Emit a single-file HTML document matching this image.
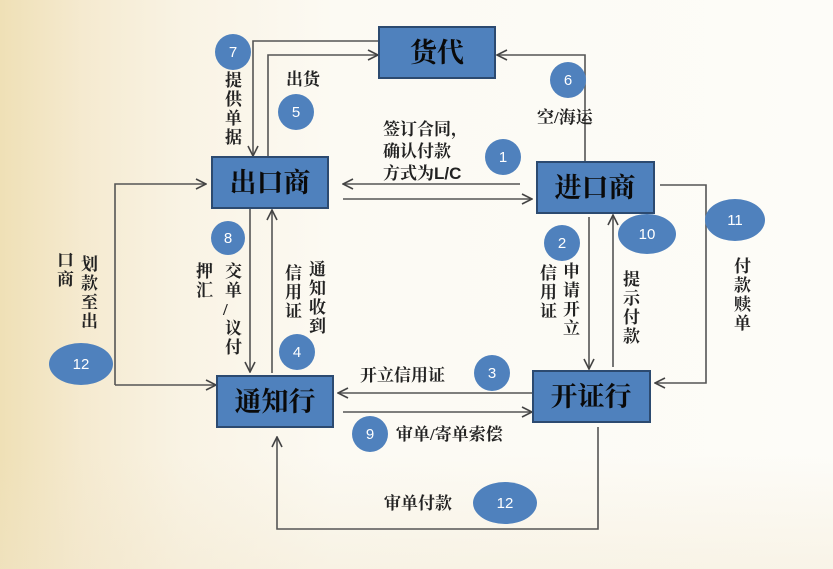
<!DOCTYPE html>
<html><head><meta charset="utf-8"><style>
html,body{margin:0;padding:0;}
body{width:833px;height:569px;overflow:hidden;background:linear-gradient(180deg,rgba(255,255,255,0) 80%,rgba(240,228,200,0.35) 100%),linear-gradient(90deg,#efe0b6 0%,#f5ead0 10%,#f9f3e4 22%,#fcfaf3 40%,#fdfcf8 100%);}
svg{display:block;}
text{font-family:"Liberation Serif","Noto Serif CJK SC","Noto Sans CJK SC",serif;fill:#222;}
.box{fill:#4f81bd;stroke:#2c4a70;stroke-width:2;}
.bt{font-size:27px;fill:#0a0a0a;text-anchor:middle;font-weight:bold;}
.c{fill:#4f81bd;}
.n{font-family:"Liberation Sans",sans-serif;font-size:15px;fill:#fff;text-anchor:middle;}
.l{font-size:17px;font-weight:bold;fill:#333;}
.ln{stroke:#555;stroke-width:1.6;fill:none;}
</style></head><body>
<svg width="833" height="569" viewBox="0 0 833 569">
<defs><marker id="a" viewBox="0 0 12 12" refX="11" refY="6" markerWidth="12" markerHeight="12" markerUnits="userSpaceOnUse" orient="auto"><path d="M1,1 L11,6 L1,11" fill="none" stroke="#444" stroke-width="1.6"/></marker></defs>

<polyline class="ln" points="379,41 253,41 253,156" marker-end="url(#a)"/>
<polyline class="ln" points="268,157 268,55 378,55" marker-end="url(#a)"/>
<polyline class="ln" points="585,162 585,55 497,55" marker-end="url(#a)"/>
<line class="ln" x1="520" y1="184" x2="343" y2="184" marker-end="url(#a)"/>
<line class="ln" x1="343" y1="199" x2="532" y2="199" marker-end="url(#a)"/>
<line class="ln" x1="250" y1="209" x2="250" y2="372" marker-end="url(#a)"/>
<line class="ln" x1="272" y1="373" x2="272" y2="210" marker-end="url(#a)"/>
<polyline class="ln" points="115,385 115,184 206,184" marker-end="url(#a)"/>
<line class="ln" x1="115" y1="385" x2="216" y2="385" marker-end="url(#a)"/>
<line class="ln" x1="533" y1="393" x2="338" y2="393" marker-end="url(#a)"/>
<line class="ln" x1="343" y1="412" x2="532" y2="412" marker-end="url(#a)"/>
<polyline class="ln" points="598,427 598,529 277,529 277,437" marker-end="url(#a)"/>
<line class="ln" x1="589" y1="217" x2="589" y2="369" marker-end="url(#a)"/>
<line class="ln" x1="613" y1="367" x2="613" y2="215" marker-end="url(#a)"/>
<polyline class="ln" points="660,185 706,185 706,383 655,383" marker-end="url(#a)"/>

<rect class="box" x="379" y="27" width="116" height="51"/><text class="bt" x="437" y="62">货代</text>
<rect class="box" x="212" y="157" width="116" height="51"/><text class="bt" x="270" y="192">出口商</text>
<rect class="box" x="537" y="162" width="117" height="51"/><text class="bt" x="595" y="197">进口商</text>
<rect class="box" x="217" y="376" width="116" height="51"/><text class="bt" x="275" y="411">通知行</text>
<rect class="box" x="533" y="371" width="117" height="51"/><text class="bt" x="591" y="406">开证行</text>

<circle class="c" cx="233" cy="52" r="18"/><text class="n" x="233" y="57">7</text>
<circle class="c" cx="296" cy="112" r="18"/><text class="n" x="296" y="117">5</text>
<circle class="c" cx="503" cy="157" r="18"/><text class="n" x="503" y="162">1</text>
<circle class="c" cx="568" cy="80" r="18"/><text class="n" x="568" y="85">6</text>
<circle class="c" cx="562" cy="243" r="18"/><text class="n" x="562" y="248">2</text>
<ellipse class="c" cx="647" cy="234" rx="29" ry="20"/><text class="n" x="647" y="239">10</text>
<ellipse class="c" cx="735" cy="220" rx="30" ry="21"/><text class="n" x="735" y="225">11</text>
<circle class="c" cx="228" cy="238" r="17"/><text class="n" x="228" y="243">8</text>
<circle class="c" cx="297" cy="352" r="18"/><text class="n" x="297" y="357">4</text>
<ellipse class="c" cx="81" cy="364" rx="32" ry="21"/><text class="n" x="81" y="369">12</text>
<circle class="c" cx="492" cy="373" r="18"/><text class="n" x="492" y="378">3</text>
<circle class="c" cx="370" cy="434" r="18"/><text class="n" x="370" y="439">9</text>
<ellipse class="c" cx="505" cy="503" rx="32" ry="21"/><text class="n" x="505" y="508">12</text>

<g class="l">
<text x="225" y="86">提</text><text x="225" y="105">供</text><text x="225" y="124">单</text><text x="225" y="143">据</text>
<text x="286" y="85">出货</text>
<text x="383" y="135">签订合同，</text>
<text x="383" y="157">确认付款</text>
<text x="383" y="179">方式为<tspan font-family="Liberation Sans,sans-serif">L/C</tspan></text>
<text x="537" y="123">空/海运</text>
<text x="225" y="277">交</text><text x="225" y="296">单</text><text x="223" y="315">/</text><text x="225" y="334">议</text><text x="225" y="353">付</text>
<text x="196" y="277">押</text><text x="196" y="296">汇</text>
<text x="309" y="275">通</text><text x="309" y="294">知</text><text x="309" y="313">收</text><text x="309" y="332">到</text>
<text x="285" y="279">信</text><text x="285" y="298">用</text><text x="285" y="317">证</text>
<text x="81" y="270">划</text><text x="81" y="289">款</text><text x="81" y="308">至</text><text x="81" y="327">出</text>
<text x="57" y="266">口</text><text x="57" y="285">商</text>
<text x="563" y="277">申</text><text x="563" y="296">请</text><text x="563" y="315">开</text><text x="563" y="334">立</text>
<text x="540" y="279">信</text><text x="540" y="298">用</text><text x="540" y="317">证</text>
<text x="623" y="285">提</text><text x="623" y="304">示</text><text x="623" y="323">付</text><text x="623" y="342">款</text>
<text x="734" y="272">付</text><text x="734" y="291">款</text><text x="734" y="310">赎</text><text x="734" y="329">单</text>
<text x="360" y="381">开立信用证</text>
<text x="396" y="440">审单/寄单索偿</text>
<text x="384" y="509">审单付款</text>
</g>
</svg>
</body></html>
